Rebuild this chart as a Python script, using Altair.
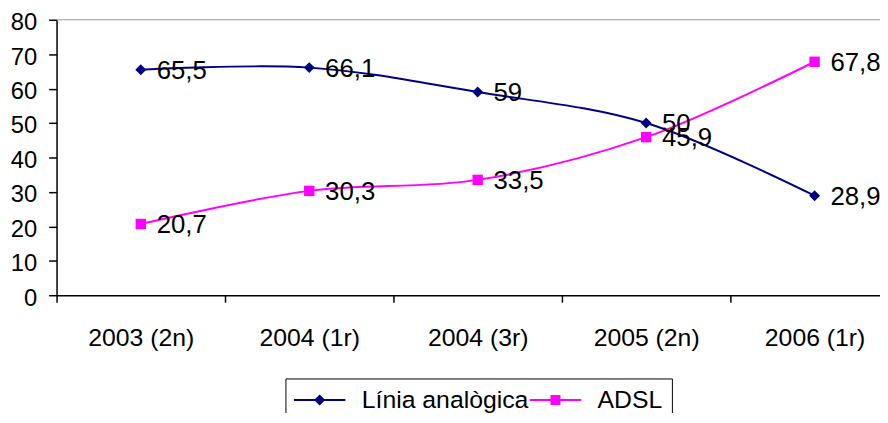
import altair as alt
import pandas as pd

categories = ["2003 (2n)", "2004 (1r)", "2004 (3r)", "2005 (2n)", "2006 (1r)"]
linia = [65.5, 66.1, 59, 50, 28.9]
adsl = [20.7, 30.3, 33.5, 45.9, 67.8]
series_names = ["Línia analògica", "ADSL"]
colors = ["#000080", "#FF00FF"]
y_ticks = [0, 10, 20, 30, 40, 50, 60, 70, 80]

rows = []
for s, vals in zip(series_names, [linia, adsl]):
    for c, v in zip(categories, vals):
        rows.append({"cat": c, "value": v, "series": s,
                     "label": f"{v:g}".replace(".", ",")})
df = pd.DataFrame(rows)

FONT = "Liberation Sans, Arial, sans-serif"

# legend symbols (unit = 12px): a thin bar (the line) with the marker in its middle
BAR = "M-2.167,-0.083L2.167,-0.083L2.167,0.083L-2.167,0.083Z"
DIAMOND = BAR + "M-0.46,0L0,-0.46L0.46,0L0,0.46Z"
SQUARE = BAR + "M-0.42,-0.42L0.42,-0.42L0.42,0.42L-0.42,0.42Z"

legend = alt.Legend(
    title=None, orient="none", legendX=231, legendY=362,
    direction="horizontal", strokeColor="black", padding=9,
    labelFontSize=25, labelFont="Arial", labelColor="black", labelLimit=500,
    symbolOffset=13, labelOffset=30, columnPadding=0,
    symbolSize=576, symbolStrokeWidth=0,
)

color_scale = alt.Scale(domain=series_names, range=colors)

x = alt.X("cat:N", sort=categories, bandPosition=0.5,
          scale=alt.Scale(type="band", range=[0, 850], paddingInner=0, paddingOuter=0),
          axis=alt.Axis(title=None, labelAngle=0, tickBand="extent", tickSize=7,
                        labelPadding=24, labelFontSize=25, labelFont=FONT, labelColor="black",
                        domainColor="black", domainWidth=1.5, tickColor="black", tickWidth=1.5))
y = alt.Y("value:Q", scale=alt.Scale(domain=[0, 80]),
          axis=alt.Axis(title=None, values=y_ticks, grid=False, tickSize=8, labelPadding=12,
                        labelOffset=3, labelFontSize=24, labelFont=FONT, labelColor="black",
                        domainColor="black", domainWidth=1.5, tickColor="black", tickWidth=1.5))

base = alt.Chart(df)

top_rule = alt.Chart(pd.DataFrame({"value": [y_ticks[-1]]})).mark_rule(
    color="#999999", strokeWidth=1).encode(y=y)

lines = base.mark_line(interpolate="catmull-rom", strokeWidth=2).encode(
    x=x, y=y, color=alt.Color("series:N", scale=color_scale, legend=legend))

pts_a = base.transform_filter(alt.datum.series == series_names[0]).mark_point(
    filled=True, opacity=1, size=121, shape="diamond", color=colors[0]).encode(x=x, y=y)
pts_b = base.transform_filter(alt.datum.series == series_names[1]).mark_point(
    filled=True, opacity=1, size=110, shape="square", color=colors[1]).encode(x=x, y=y)

# legend-only layer (no rows drawn)
ghost = base.transform_filter("false").mark_point(
    filled=True, opacity=1, size=576, strokeWidth=0).encode(
    x=x, y=y,
    color=alt.Color("series:N", scale=color_scale, legend=legend),
    shape=alt.Shape("series:N", scale=alt.Scale(domain=series_names, range=[DIAMOND, SQUARE]), legend=legend),
)

labels = base.mark_text(align="left", baseline="middle", dx=16, dy=1, fontSize=26,
                        font=FONT, color="black").encode(x=x, y=y, text="label:N")

chart = alt.layer(top_rule, lines, pts_a, pts_b, ghost, labels).properties(
    width=831, height=278,
    autosize=alt.AutoSizeParams(type="none"),
    padding={"left": 49, "top": 10, "right": 0, "bottom": 117},
).configure_view(stroke=None)

chart.save("out.html", embed_options={"renderer": "svg", "actions": False})
